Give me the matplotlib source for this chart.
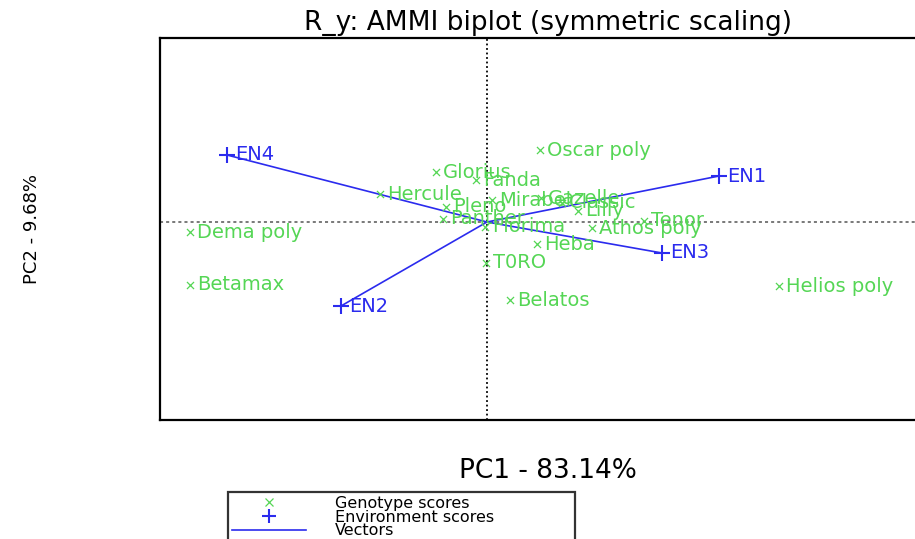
import matplotlib
matplotlib.use("Agg")
import matplotlib.pyplot as plt
from matplotlib.lines import Line2D

plt.rcParams['font.family'] = ['DejaVu Sans']

# genotype scores (PC1, PC2)
geno_names = ["Oscar poly", "Glorius", "Fanda", "Hercule", "Mirabel", "Gazelle",
              "Classic", "Pleno", "Panther", "Florima", "Lilly", "Tenor",
              "Athos poly", "Heba", "T0RO", "Belatos", "Dema poly", "Betamax",
              "Helios poly"]
geno_pc1 = [0.53, -0.51, -0.11, -1.07, 0.05, 0.54, 0.75, -0.41, -0.44, -0.02,
            0.91, 1.57, 1.05, 0.50, -0.01, 0.23, -2.97, -2.97, 2.92]
geno_pc2 = [0.72, 0.50, 0.42, 0.28, 0.22, 0.24, 0.19, 0.15, 0.03, -0.05,
            0.11, 0.01, -0.06, -0.22, -0.41, -0.78, -0.10, -0.63, -0.64]

# environment scores (PC1, PC2)
env_names = ["EN1", "EN2", "EN3", "EN4"]
env_pc1 = [2.32, -1.46, 1.75, -2.60]
env_pc2 = [0.46, -0.84, -0.31, 0.67]

green = "#55d655"
blue = "#2b2bee"

fig = plt.figure(figsize=(9.15, 5.39), dpi=100)
ax = fig.add_axes([160 / 915, 119 / 539, 775 / 915, 382 / 539])

ax.set_xlim(-3.27, 4.48)
ax.set_ylim(-1.98, 1.84)
ax.set_xticks([])
ax.set_yticks([])
for s in ax.spines.values():
    s.set_linewidth(1.6)
    s.set_color("black")

ax.axvline(0, color="black", linestyle=(0, (1, 1.5)), linewidth=1.3, zorder=1)
ax.axhline(0, color="#555555", linestyle=(0, (2, 2)), linewidth=1.1, zorder=1)

# vectors from origin to environment scores
for x, y in zip(env_pc1, env_pc2):
    ax.plot([0, x], [0, y], color=blue, linewidth=1.2, zorder=2)

ax.scatter(geno_pc1, geno_pc2, marker="x", s=26, color=green, linewidths=0.9, zorder=3)
for name, x, y in zip(geno_names, geno_pc1, geno_pc2):
    ax.annotate(name, (x, y), xytext=(5, 0), textcoords="offset points",
                color=green, fontsize=14, va="center", ha="left", zorder=3)

ax.scatter(env_pc1, env_pc2, marker="+", s=120, color=blue, linewidths=1.5, zorder=4)
for name, x, y in zip(env_names, env_pc1, env_pc2):
    ax.annotate(name, (x, y), xytext=(6, 0), textcoords="offset points",
                color=blue, fontsize=14, va="center", ha="left", zorder=4)

ax.set_title("R_y: AMMI biplot (symmetric scaling)", fontsize=19, pad=6)
ax.set_xlabel("PC1 - 83.14%", fontsize=19, labelpad=27)
ax.set_ylabel("PC2 - 9.68%", fontsize=13, labelpad=86)

handles = [
    Line2D([], [], linestyle="none", marker="x", color=green, markersize=6, markeredgewidth=0.9),
    Line2D([], [], linestyle="none", marker="+", color=blue, markersize=10, markeredgewidth=1.5),
    Line2D([], [], color=blue, linewidth=1.2),
]
labels = ["Genotype scores", "Environment scores", "Vectors"]
leg = fig.legend(handles, labels, loc="upper left",
                 bbox_to_anchor=(220 / 915, 1 - 489 / 539, 363 / 915, 0.01),
                 mode="expand", fontsize=11.5, handlelength=4.6, handletextpad=1.8,
                 borderpad=0.28, labelspacing=-0.09, fancybox=False, framealpha=1)
leg.get_frame().set_edgecolor("#333333")
leg.get_frame().set_linewidth(1.6)

fig.savefig("out.png", dpi=100)
